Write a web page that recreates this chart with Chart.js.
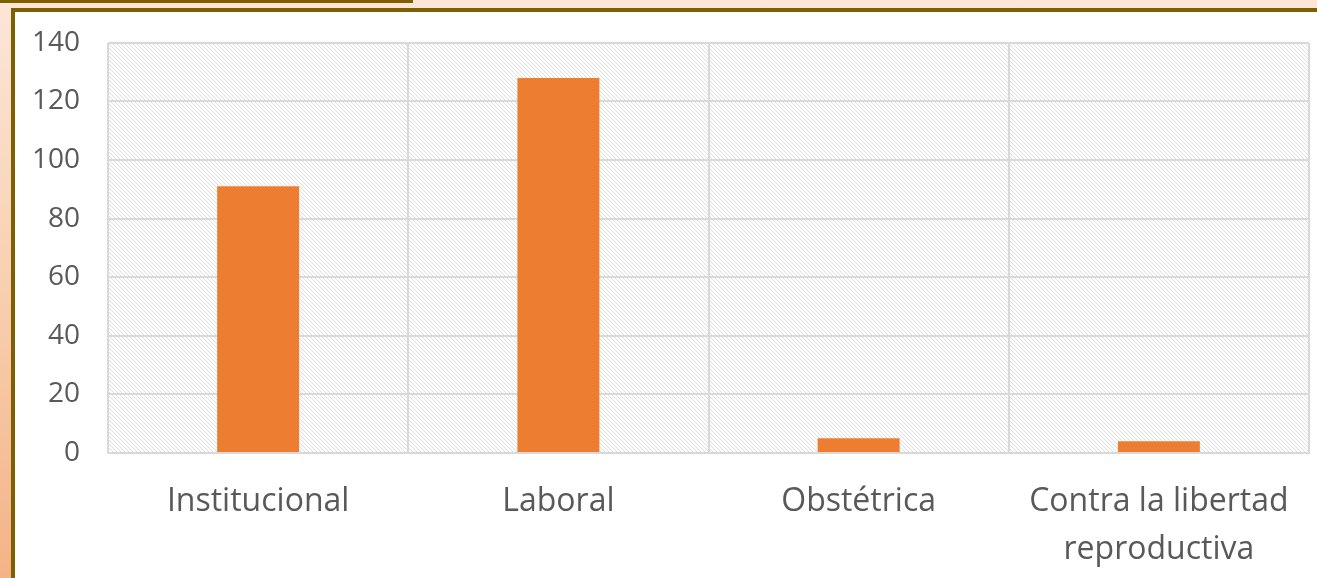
<!DOCTYPE html>
<html>
<head>
<meta charset="utf-8">
<script src="https://cdn.jsdelivr.net/npm/chart.js@4"></script>
<style>
  html, body { margin: 0; padding: 0; }
  body {
    width: 1317px; height: 578px; overflow: hidden; position: relative;
    background: linear-gradient(to bottom, #fce6d8 0%, #f8cfb0 50%, #f4b386 100%);
  }
  .topline { position: absolute; left: 0; top: 0; width: 413px; height: 3px; background: #7f6000; }
  .box {
    position: absolute; left: 11px; top: 8px; right: -10px; bottom: -10px;
    border: 4px solid #7f6000; background: #fff;
  }
  .wrap { position: absolute; left: 15px; top: -2px; width: 1302px; height: 580px; }
</style>
</head>
<body>
<div class="topline"></div>
<div class="box"></div>
<div class="wrap"><canvas id="chart"></canvas></div>
<script>
const categorias = ["Institucional", "Laboral", "Obstétrica", ["Contra la libertad", "reproductiva"]]
const casos = [91, 128, 5, 4]

const textColor = "#595959"
const gridColor = "#d9d9d9"

// fondo rayado del área de trazado
const makeHatch = () => {
    const c = document.createElement("canvas")
    c.width = 4
    c.height = 4
    const g = c.getContext("2d")
    g.fillStyle = "#ffffff"
    g.fillRect(0, 0, 4, 4)
    g.fillStyle = "#dedede"
    for (let i = 0; i < 4; i++) g.fillRect(i, i, 1, 1)
    return g.createPattern(c, "repeat")
}

const hatchPlugin = {
    id: "hatch",
    beforeDraw(chart) {
        const { ctx, chartArea } = chart
        ctx.save()
        ctx.fillStyle = makeHatch()
        ctx.fillRect(chartArea.left, chartArea.top, chartArea.right - chartArea.left, chartArea.bottom - chartArea.top)
        ctx.restore()
    }
}

const ctx = document.querySelector("canvas#chart")

new Chart(ctx, {
    type: "bar",
    data: {
        labels: categorias,
        datasets: [{
            data: casos,
            backgroundColor: "#ed7d31",
            categoryPercentage: 1,
            barPercentage: 0.273
        }]
    },
    options: {
        responsive: true,
        maintainAspectRatio: false,
        animation: false,
        layout: { padding: { top: 17, right: 8, left: 0, bottom: 0 } },
        plugins: {
            legend: { display: false },
            tooltip: { enabled: false }
        },
        scales: {
            x: {
                grid: { color: gridColor, lineWidth: 2, drawTicks: false, offset: true },
                border: { color: gridColor, width: 2 },
                ticks: {
                    color: textColor,
                    font: { family: "Open Sans", size: 32, lineHeight: 1.5 },
                    padding: 25,
                    maxRotation: 0
                },
                afterFit: (scale) => { scale.height = 125 }
            },
            y: {
                min: 0,
                max: 140,
                ticks: {
                    stepSize: 20,
                    color: textColor,
                    font: { family: "Open Sans", size: 28 },
                    padding: 28
                },
                grid: { color: gridColor, lineWidth: 2, drawTicks: false },
                border: { display: false },
                afterFit: (scale) => { scale.width = 93 }
            }
        }
    },
    plugins: [hatchPlugin]
})
</script>
</body>
</html>
